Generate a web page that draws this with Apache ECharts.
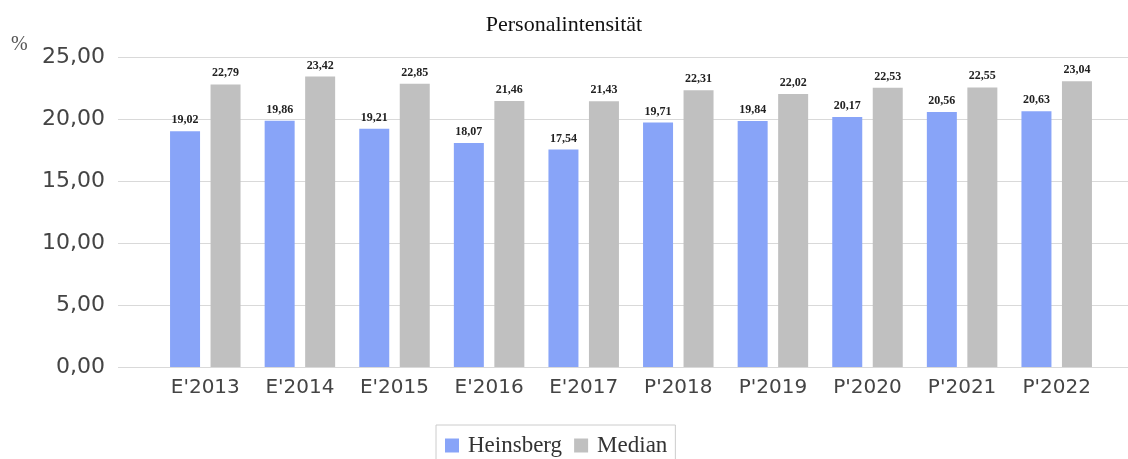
<!DOCTYPE html>
<html>
<head>
<meta charset="utf-8">
<script src="https://cdn.jsdelivr.net/npm/echarts@6/dist/echarts.min.js"></script>
<style>
  html, body { margin: 0; padding: 0; background: #fff; }
  #chart { width: 1128px; height: 459px; }
</style>
</head>
<body>
<div id="chart"></div>
<script>
const categories = ["E'2013", "E'2014", "E'2015", "E'2016", "E'2017", "P'2018", "P'2019", "P'2020", "P'2021", "P'2022"]
const heinsberg = [19.02, 19.86, 19.21, 18.07, 17.54, 19.71, 19.84, 20.17, 20.56, 20.63]
const median = [22.79, 23.42, 22.85, 21.46, 21.43, 22.31, 22.02, 22.53, 22.55, 23.04]

const fmt = (v) => v.toFixed(2).replace('.', ',')
const serif = '"Liberation Serif", "DejaVu Serif", serif'
const sans = '"DejaVu Sans", Verdana, sans-serif'

const chart = echarts.init(document.getElementById('chart'))

const barLabel = {
  show: true,
  position: 'top',
  distance: 5,
  fontFamily: serif,
  fontWeight: 'bold',
  fontSize: 12,
  color: '#222',
  formatter: (p) => fmt(p.value)
}

const option = {
  animation: false,
  title: {
    text: 'Personalintensität',
    left: 'center',
    top: 9,
    itemGap: 0,
    textStyle: { fontFamily: serif, fontWeight: 'normal', fontSize: 22, color: '#111' }
  },
  graphic: [{
    type: 'text',
    left: 11,
    top: 35,
    style: { text: '%', font: '20px ' + serif, fill: '#555' }
  }],
  legend: {
    top: 425,
    left: 436,
    itemWidth: 14,
    itemHeight: 14,
    itemGap: 12,
    icon: 'rect',
    borderColor: '#ccc',
    borderWidth: 1,
    borderRadius: 0,
    padding: [9, 8, 20, 9],
    textStyle: { fontFamily: serif, fontSize: 23, color: '#333', padding: [0, 0, 0, 4] },
    data: ['Heinsberg', 'Median']
  },
  grid: [
    { left: 118, right: 0, top: 57, bottom: 92 },
    { left: 158, right: 24, top: 57, bottom: 92 }
  ],
  xAxis: [
    { gridIndex: 0, type: 'category', data: [], show: false },
    {
      gridIndex: 1,
      type: 'category',
      data: categories,
      axisLine: { show: false },
      axisTick: { show: false },
      axisLabel: { fontFamily: sans, fontSize: 20, color: '#444', margin: 11 }
    }
  ],
  yAxis: [
    {
      gridIndex: 0,
      type: 'value',
      min: 0,
      max: 25,
      interval: 5,
      axisLine: { show: false },
      axisTick: { show: false },
      splitLine: { lineStyle: { color: '#d9d9d9', width: 1 } },
      axisLabel: { fontFamily: sans, fontSize: 22, color: '#444', margin: 13, formatter: (v) => fmt(v) }
    },
    {
      gridIndex: 1,
      type: 'value',
      min: 0,
      max: 25,
      show: false,
      splitLine: { show: false }
    }
  ],
  series: [
    {
      name: 'Heinsberg',
      type: 'bar',
      xAxisIndex: 1,
      yAxisIndex: 1,
      barWidth: 30,
      barGap: '35%',
      itemStyle: { color: '#88a4f8' },
      label: barLabel,
      data: heinsberg
    },
    {
      name: 'Median',
      type: 'bar',
      xAxisIndex: 1,
      yAxisIndex: 1,
      barWidth: 30,
      itemStyle: { color: '#c0c0c0' },
      label: barLabel,
      data: median
    }
  ]
}

chart.setOption(option)
</script>
</body>
</html>
